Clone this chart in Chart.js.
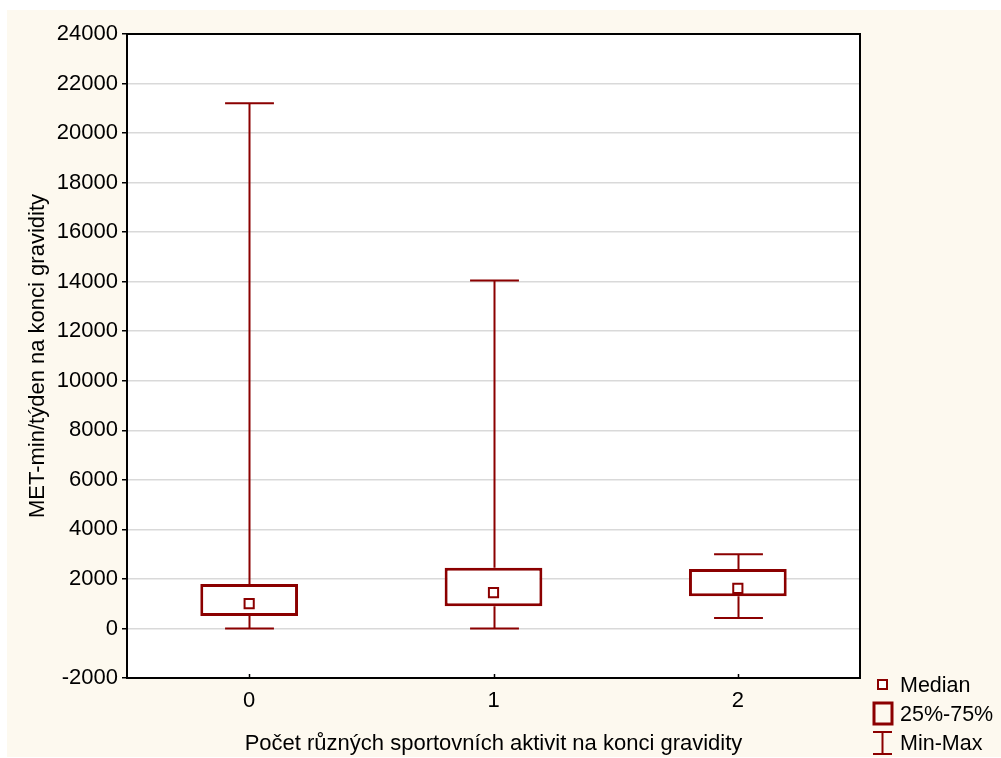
<!DOCTYPE html>
<html>
<head>
<meta charset="utf-8">
<script src="https://cdn.jsdelivr.net/npm/chart.js@4.4.1/dist/chart.umd.min.js"></script>
<style>
  html, body { margin: 0; padding: 0; background: #fff; }
  #wrap { width: 1001px; height: 758px; }
</style>
</head>
<body>
<div id="wrap"><canvas id="grafica" width="1001" height="758"></canvas></div>
<script>
// datos
const kategorie = ['0', '1', '2'];
const minimum = [0, 0, 420];
const kvartil1 = [500, 900, 1300];
const median = [1000, 1450, 1620];
const kvartil3 = [1800, 2450, 2400];
const maximum = [21200, 14050, 3000];
const yTicks = { min: -2000, max: 24000, step: 2000 };

const barva = '#8b0000';
const pozadi = '#fdf9ef';

Chart.defaults.font.family = '"Liberation Sans", Arial, sans-serif';
Chart.defaults.font.size = 22;
Chart.defaults.color = '#000';

// fondo crema + area blanca
const pozadiPlugin = {
  id: 'pozadi',
  beforeDraw(chart) {
    const { ctx, chartArea } = chart;
    ctx.save();
    ctx.fillStyle = pozadi;
    ctx.fillRect(7, 10, chart.width - 7, chart.height - 11);
    ctx.fillStyle = '#fff';
    ctx.fillRect(chartArea.left, chartArea.top, chartArea.right - chartArea.left, chartArea.bottom - chartArea.top);
    ctx.restore();
  }
};

// bigotes min-max dibujados con las escalas
const fousy = {
  id: 'fousy',
  beforeDatasetsDraw(chart) {
    const { ctx, scales } = chart;
    const x = scales.x, y = scales.y;
    const sirka = x.getPixelForValue(1) - x.getPixelForValue(0);
    ctx.save();
    ctx.strokeStyle = barva;
    ctx.lineWidth = 2;
    kategorie.forEach((k, i) => {
      const cx = Math.round(x.getPixelForValue(i)) + 0.5;
      const pul = sirka * 0.1;
      const yMin = y.getPixelForValue(minimum[i]);
      const yMax = y.getPixelForValue(maximum[i]);
      ctx.beginPath();
      ctx.moveTo(cx, yMin); ctx.lineTo(cx, y.getPixelForValue(kvartil1[i]));
      ctx.moveTo(cx, y.getPixelForValue(kvartil3[i])); ctx.lineTo(cx, yMax);
      ctx.moveTo(cx - pul, yMin); ctx.lineTo(cx + pul, yMin);
      ctx.moveTo(cx - pul, yMax); ctx.lineTo(cx + pul, yMax);
      ctx.stroke();
    });
    ctx.restore();
  },
  afterDraw(chart) {
    const { ctx, chartArea, scales } = chart;
    ctx.save();
    // marco del grafico
    ctx.strokeStyle = '#000';
    ctx.lineWidth = 2;
    ctx.strokeRect(chartArea.left, chartArea.top, chartArea.right - chartArea.left, chartArea.bottom - chartArea.top);
    // pequenas marcas en el eje x
    ctx.lineWidth = 1.5;
    ctx.beginPath();
    kategorie.forEach((k, i) => {
      const cx = Math.round(scales.x.getPixelForValue(i)) + 0.5;
      ctx.moveTo(cx, chartArea.bottom);
      ctx.lineTo(cx, chartArea.bottom - 4);
    });
    ctx.stroke();

    // leyenda
    const lx = chartArea.right + 22;
    const tx = chartArea.right + 40;
    ctx.font = '21.5px "Liberation Sans", Arial, sans-serif';
    ctx.textBaseline = 'middle';
    ctx.textAlign = 'left';
    ctx.fillStyle = '#000';
    ctx.fillText('Median', tx, chartArea.bottom + 8);
    ctx.fillText('25%-75%', tx, chartArea.bottom + 37);
    ctx.fillText('Min-Max', tx, chartArea.bottom + 66);

    ctx.strokeStyle = barva;
    ctx.lineWidth = 2;
    ctx.fillStyle = '#fff';
    ctx.fillRect(lx - 4, chartArea.bottom + 2, 9, 9);
    ctx.strokeRect(lx - 4, chartArea.bottom + 2, 9, 9);
    ctx.lineWidth = 3;
    ctx.strokeRect(lx - 8, chartArea.bottom + 25, 18, 21);
    ctx.lineWidth = 2;
    ctx.beginPath();
    ctx.moveTo(lx - 9, chartArea.bottom + 54); ctx.lineTo(lx + 10, chartArea.bottom + 54);
    ctx.moveTo(lx + 0.5, chartArea.bottom + 54); ctx.lineTo(lx + 0.5, chartArea.bottom + 76);
    ctx.moveTo(lx - 9, chartArea.bottom + 76); ctx.lineTo(lx + 10, chartArea.bottom + 76);
    ctx.stroke();
    ctx.restore();
  }
};

const ctx = document.getElementById('grafica').getContext('2d');
const grafica = new Chart(ctx, {
  type: 'bar',
  data: {
    labels: kategorie,
    datasets: [
      {
        label: '25%-75%',
        data: kvartil1.map((v, i) => [v, kvartil3[i]]),
        backgroundColor: '#fff',
        borderColor: barva,
        borderWidth: 3,
        borderSkipped: false,
        barPercentage: 0.4,
        categoryPercentage: 1,
        order: 2
      },
      {
        type: 'line',
        label: 'Median',
        data: median,
        showLine: false,
        pointStyle: 'rect',
        pointRadius: 6.5,
        pointBorderWidth: 2,
        pointBackgroundColor: '#fff',
        pointBorderColor: barva,
        order: 1
      }
    ]
  },
  options: {
    responsive: false,
    animation: false,
    layout: { padding: { left: 0, top: 34, right: 141, bottom: 0 } },
    plugins: {
      legend: { display: false },
      tooltip: { enabled: false }
    },
    scales: {
      x: {
        offset: true,
        grid: { display: false, drawTicks: false },
        border: { display: false },
        ticks: { padding: 10 },
        title: {
          display: true,
          text: 'Počet různých sportovních aktivit na konci gravidity',
          padding: { top: 0, bottom: 1 }
        },
        afterFit(scale) { scale.height = 80; }
      },
      y: {
        min: yTicks.min,
        max: yTicks.max,
        ticks: {
          stepSize: yTicks.step,
          padding: 4,
          callback: v => String(v)
        },
        grid: {
          color: '#d9d9d9',
          lineWidth: 1.5,
          tickColor: '#000',
          tickLength: 5,
          tickWidth: 1.5
        },
        border: { display: false },
        title: {
          display: true,
          text: 'MET-min/týden na konci gravidity',
          padding: { top: 25, bottom: 0 }
        },
        afterFit(scale) { scale.width = 127; }
      }
    }
  },
  plugins: [pozadiPlugin, fousy]
});
</script>
</body>
</html>
